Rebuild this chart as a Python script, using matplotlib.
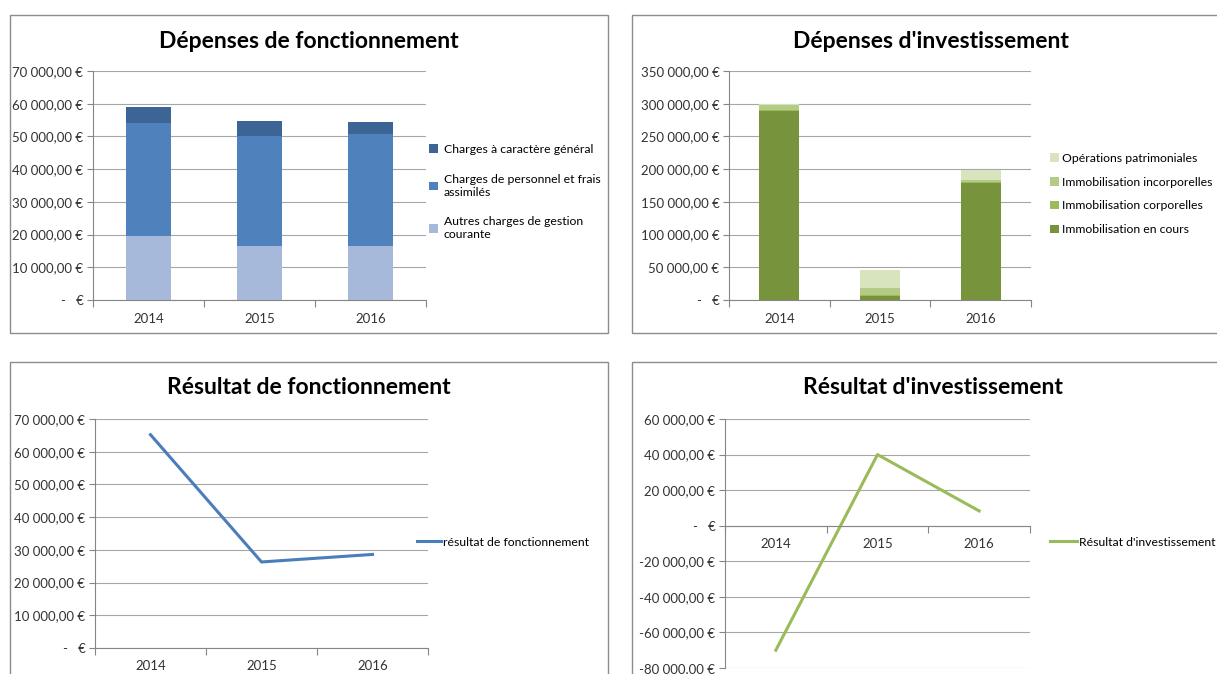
import matplotlib.pyplot as plt
from matplotlib.patches import Rectangle
from matplotlib.ticker import FuncFormatter, FixedLocator, MultipleLocator
import numpy as np

plt.rcParams['font.family'] = ['Lato', 'DejaVu Sans']

years = ['2014', '2015', '2016']

# Dépenses de fonctionnement (bottom -> top)
fonct_labels = ['Autres charges de gestion\ncourante',
                'Charges de personnel et frais\nassimilés',
                'Charges à caractère général']
fonct_autres = [19600, 16650, 16650]
fonct_personnel = [34600, 33400, 33950]
fonct_general = [4800, 4650, 3700]
fonct_colors = ['#A7B9DA', '#4F81BD', '#3C6596']

# Dépenses d'investissement (bottom -> top)
inv_labels = ['Immobilisation en cours', 'Immobilisation corporelles',
              'Immobilisation incorporelles', 'Opérations patrimoniales']
inv_en_cours = [289000, 6000, 179000]
inv_corporelles = [2000, 1000, 1500]
inv_incorporelles = [7000, 11000, 3500]
inv_patrimoniales = [1000, 28000, 15000]
inv_colors = ['#77933C', '#9BBB59', '#B3CB85', '#D7E4BD']

# Résultats
res_fonct = [65200, 26300, 28600]
res_inv = [-70000, 40000, 8300]

W, H = 1217, 674
fig = plt.figure(figsize=(W / 100, H / 100), dpi=100)
fig.patch.set_facecolor('white')

GRID = '#A6A6A6'
AXC = '#868686'
LEG_FS = 8.8


def px_axes(x0, y0, x1, y1):
    return fig.add_axes([x0 / W, 1 - y1 / H, (x1 - x0) / W, (y1 - y0) / H])


def euro(v, pos=None):
    if abs(v) < 1e-6:
        return '-   €'
    s = f"{abs(v):,.2f}".replace(',', ' ').replace('.', ',')
    return ('-' if v < 0 else '') + s + ' €'


def panel(x0, y0, x1, y1):
    fig.patches.append(Rectangle((x0 / W, 1 - y1 / H), (x1 - x0) / W, (y1 - y0) / H,
                                 transform=fig.transFigure, fill=False,
                                 edgecolor='#8C8C8C', linewidth=1.0))


def style(ax, ymin, ymax, step, zero_axis=False):
    x = np.arange(len(years))
    ax.set_xlim(-0.5, len(years) - 0.5)
    ax.set_ylim(ymin, ymax)
    ax.yaxis.set_major_locator(MultipleLocator(step))
    ax.yaxis.set_major_formatter(FuncFormatter(euro))
    ax.grid(axis='y', color=GRID, linewidth=0.8)
    ax.set_axisbelow(True)
    for s in ['top', 'right']:
        ax.spines[s].set_visible(False)
    ax.spines['left'].set_color(AXC)
    ax.spines['bottom'].set_color(AXC)
    if zero_axis:
        ax.spines['bottom'].set_position(('data', 0))
    ax.xaxis.set_major_locator(FixedLocator(np.arange(-0.5, len(years), 1.0)))
    ax.xaxis.set_major_formatter(FuncFormatter(lambda v, p: ''))
    ax.xaxis.set_minor_locator(FixedLocator(x))
    ax.set_xticklabels(years, minor=True)
    ax.tick_params(axis='x', which='major', length=5, color=AXC)
    ax.tick_params(axis='x', which='minor', length=0, pad=9, labelsize=9.5, labelcolor='#333333')
    ax.tick_params(axis='y', length=4, color=AXC, labelsize=9.5, labelcolor='#333333', pad=3)
    return x


# Panels
panel(10, 15, 608, 333)
panel(632, 15, 1230, 333)
panel(10, 362, 608, 690)
panel(632, 362, 1230, 690)

# Chart 1
ax1 = px_axes(93, 71, 426, 300)
x = style(ax1, 0, 70000, 10000)
bottom = np.zeros(3)
handles = []
for vals, col, lab in zip([fonct_autres, fonct_personnel, fonct_general], fonct_colors, fonct_labels):
    b = ax1.bar(x, vals, 0.4, bottom=bottom, color=col, label=lab)
    handles.append(b)
    bottom += np.array(vals)
fig.text(309 / W, 1 - 41 / H, 'Dépenses de fonctionnement', ha='center', va='center',
         fontsize=16.5, fontweight='bold')
ax1.legend(handles[::-1], [h.get_label() for h in handles[::-1]], loc='center left',
           bbox_to_anchor=(429 / W, 1 - 192 / H), bbox_transform=fig.transFigure,
           frameon=False, fontsize=LEG_FS, handlelength=0.7, handleheight=0.7,
           handletextpad=0.5, labelspacing=1.55, borderpad=0, borderaxespad=0)

# Chart 2
ax2 = px_axes(729, 71, 1031, 300)
x = style(ax2, 0, 350000, 50000)
bottom = np.zeros(3)
handles = []
for vals, col, lab in zip([inv_en_cours, inv_corporelles, inv_incorporelles, inv_patrimoniales],
                          inv_colors, inv_labels):
    b = ax2.bar(x, vals, 0.4, bottom=bottom, color=col, label=lab)
    handles.append(b)
    bottom += np.array(vals)
fig.text(931 / W, 1 - 41 / H, "Dépenses d'investissement", ha='center', va='center',
         fontsize=16.5, fontweight='bold')
ax2.legend(handles[::-1], [h.get_label() for h in handles[::-1]], loc='center left',
           bbox_to_anchor=(1050 / W, 1 - 194 / H), bbox_transform=fig.transFigure,
           frameon=False, fontsize=LEG_FS, handlelength=0.7, handleheight=0.7,
           handletextpad=0.3, labelspacing=1.05, borderpad=0, borderaxespad=0)

# Chart 3
ax3 = px_axes(95, 419, 428, 648)
x = style(ax3, 0, 70000, 10000)
ax3.plot(x, res_fonct, color='#4A7EBB', linewidth=2.2, label='résultat de fonctionnement')
fig.text(309 / W, 1 - 388 / H, 'Résultat de fonctionnement', ha='center', va='center',
         fontsize=16.5, fontweight='bold')
ax3.legend(loc='center left', bbox_to_anchor=(417 / W, 1 - 542 / H),
           bbox_transform=fig.transFigure, frameon=False, fontsize=LEG_FS,
           handlelength=2.0, handletextpad=0.1, borderpad=0, borderaxespad=0)

# Chart 4
ax4 = px_axes(725, 419, 1030, 668)
x = style(ax4, -80000, 60000, 20000, zero_axis=True)
ax4.plot(x, res_inv, color='#9BBB59', linewidth=2.2, label="Résultat d'investissement")
fig.text(933 / W, 1 - 388 / H, "Résultat d'investissement", ha='center', va='center',
         fontsize=16.5, fontweight='bold')
ax4.legend(loc='center left', bbox_to_anchor=(1050 / W, 1 - 542 / H),
           bbox_transform=fig.transFigure, frameon=False, fontsize=LEG_FS,
           handlelength=2.2, handletextpad=0.2, borderpad=0, borderaxespad=0)

fig.savefig('out.png', dpi=100)
